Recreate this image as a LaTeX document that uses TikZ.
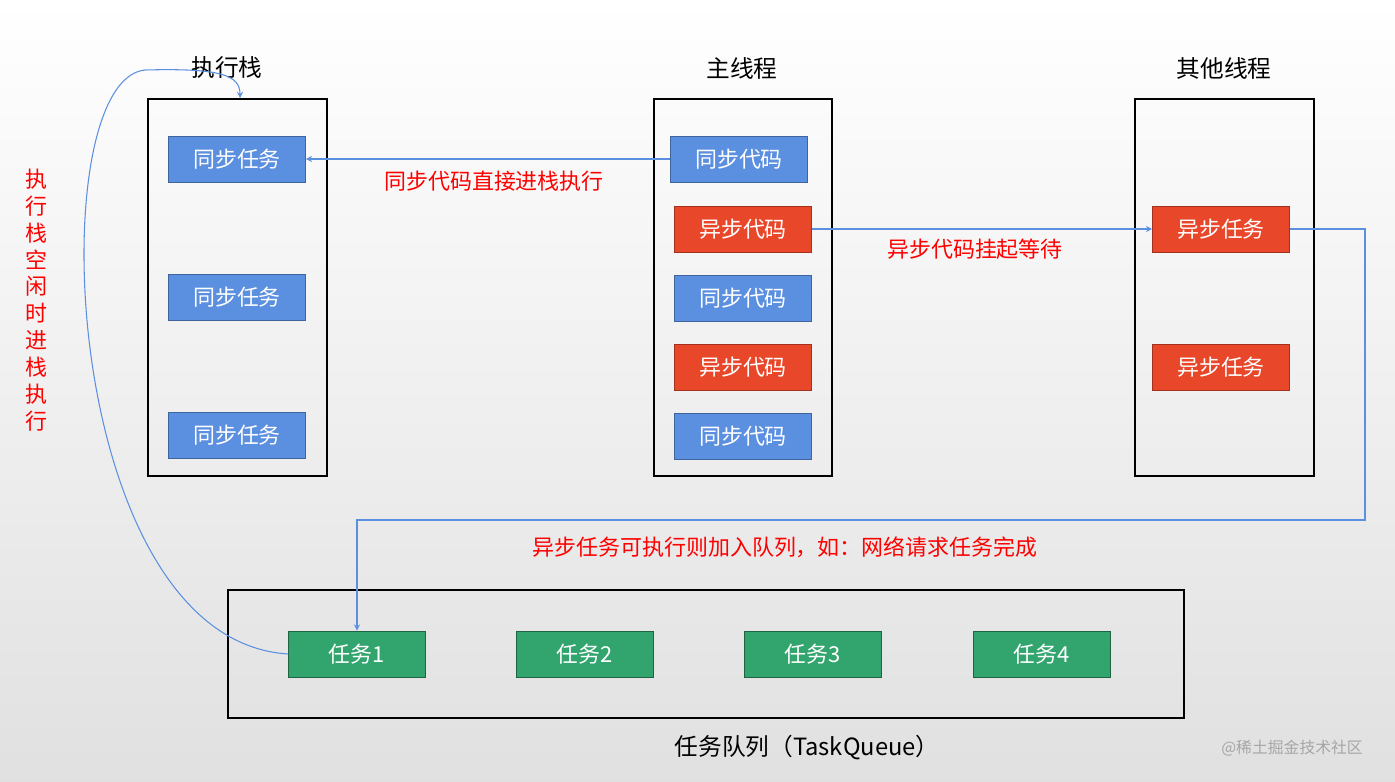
\documentclass[tikz,border=0pt]{standalone}
\usepackage{fontspec}
\setmainfont{Noto Sans CJK SC}
\usetikzlibrary{positioning}
\definecolor{syncblue}{HTML}{5B8FE0}
\definecolor{asyncred}{HTML}{E8472A}
\definecolor{taskgreen}{HTML}{32A56E}
\definecolor{lineblue}{HTML}{5B8FE0}
\tikzset{
  box/.style={minimum width=2.74cm, minimum height=0.92cm, text=white, font=\fontsize{12.5}{15}\selectfont},
  syncbox/.style={box, fill=syncblue, draw=syncblue!70!black},
  asyncbox/.style={box, fill=asyncred, draw=asyncred!70!black},
  taskbox/.style={box, fill=taskgreen, draw=taskgreen!60!black},
  frame/.style={draw, line width=0.8pt},
  title/.style={font=\fontsize{13.5}{16}\selectfont},
  note/.style={text=red, font=\fontsize{12.5}{15}\selectfont},
  link/.style={draw=lineblue, ->, >=stealth, line width=0.6pt}
}
\begin{document}
\begin{tikzpicture}[x=0.02cm,y=-0.02cm]
		\shade[top color=white, bottom color=black!12] (0,0) rectangle (1395,781);
		\useasboundingbox (0,0) rectangle (1395,781);

		% frames
		\draw[frame] (148,99) rectangle (327,476);
		\draw[frame] (654,99) rectangle (832,476);
		\draw[frame] (1135,99) rectangle (1314,476);
		\draw[frame] (228,590) rectangle (1184,718);

		\node[title] (tstack) at (227,68) {执行栈};
		\node[title] (tmain) at (742,68) {主线程};
		\node[title] (tother) at (1224,68) {其他线程};
		\node[title] (tqueue) at (807,748) {任务队列（TaskQueue）};

		% stack
		\node[syncbox] (s1) at (237,159) {同步任务};
		\node[syncbox] (s2) at (237,297) {同步任务};
		\node[syncbox] (s3) at (237,435) {同步任务};

		% main thread
		\node[syncbox] (m1) at (739,159) {同步代码};
		\node[asyncbox] (m2) at (743,229) {异步代码};
		\node[syncbox] (m3) at (743,298) {同步代码};
		\node[asyncbox] (m4) at (743,367) {异步代码};
		\node[syncbox] (m5) at (743,436) {同步代码};

		% other thread
		\node[asyncbox] (o1) at (1221,229) {异步任务};
		\node[asyncbox] (o2) at (1221,367) {异步任务};

		% queue
		\node[taskbox] (q1) at (357,654) {任务1};
		\node[taskbox] (q2) at (585,654) {任务2};
		\node[taskbox] (q3) at (813,654) {任务3};
		\node[taskbox] (q4) at (1042,654) {任务4};

		% connectors
		\draw[link] (m1.west) -- (s1.east);
		\node[note] (n1) at (494,181) {同步代码直接进栈执行};
		\draw[link] (m2.east) -- (o1.west);
		\node[note] (n2) at (975,249) {异步代码挂起等待};
		\coordinate (c1) at (1365,229);
		\coordinate (c2) at (1365,520);
		\coordinate (c3) at (357,520);
		\draw[link] (o1.east) -- (c1) -- (c2) -- (c3) -- (q1.north);
		\node[note] (n3) at (785,547) {异步任务可执行则加入队列，如：网络请求任务完成};
		\coordinate (c4) at (145,70);
		\coordinate (c5) at (240,98);
		\draw[link] (q1.west) .. controls (60,640) and (40,80) .. (c4) .. controls (220,68) and (240,75) .. (c5);
		\node[note, align=center, font=\fontsize{12.5}{15.3}\selectfont] (n4) at (36,300) {执\\行\\栈\\空\\闲\\时\\进\\栈\\执\\行};

		\node[text=black!35, font=\fontsize{9}{11}\selectfont] (wm) at (1292,748) {@稀土掘金技术社区};
	\end{tikzpicture}
\end{document}
